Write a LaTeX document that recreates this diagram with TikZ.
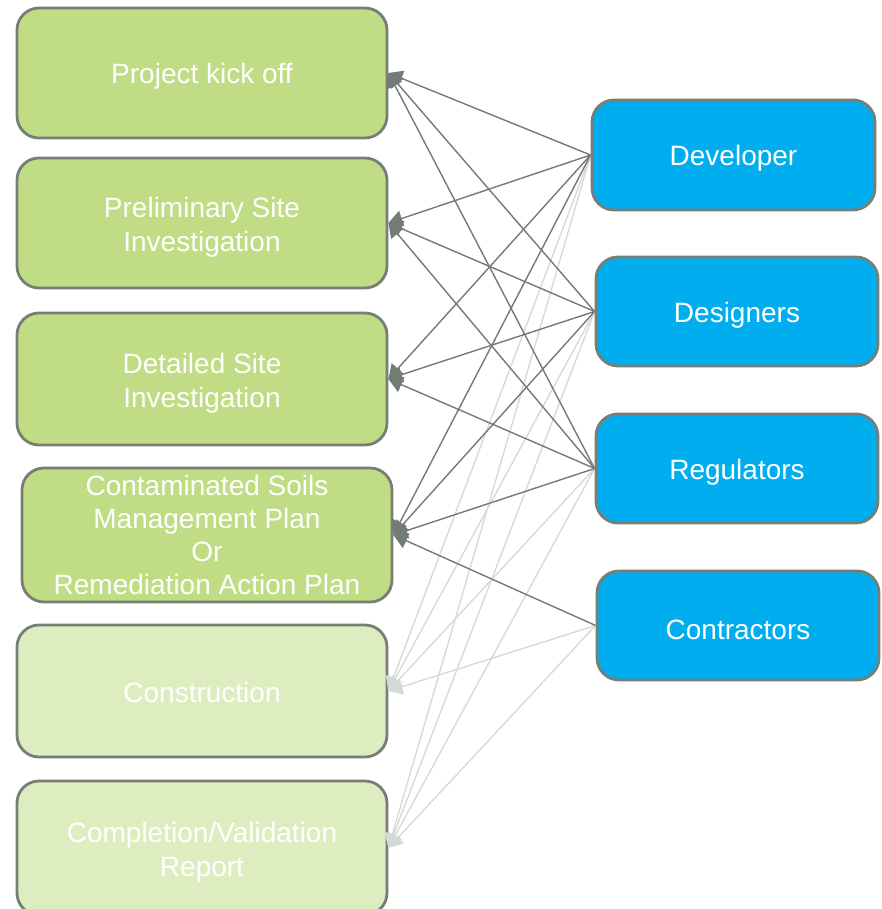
\documentclass[tikz,border=0pt]{standalone}
\usepackage{fontspec}
\setmainfont{Liberation Sans}
\usetikzlibrary{arrows.meta}
\definecolor{stepgreen}{HTML}{C0DC84}
\definecolor{stepgreenlight}{HTML}{DEEDC0}
\definecolor{roleblue}{HTML}{00AEEF}
\definecolor{edgegray}{HTML}{767F76}
\definecolor{linkdark}{HTML}{737C74}
\definecolor{linklight}{HTML}{D6D8D6}
\newcommand\tallstrut{\rule{0pt}{28pt}}
\tikzset{
  box/.style={draw=edgegray, line width=2.8pt, rounded corners=22pt, text=white,
    align=center, inner sep=0pt, font=\fontsize{28}{34}\selectfont},
  lowtext/.style={execute at begin node={\rule{0pt}{#1}}},
  lowtext/.default=27.5pt,
  stepbox/.style={box, fill=stepgreen, minimum width=370pt},
  futurebox/.style={box, fill=stepgreenlight, minimum width=370pt},
  rolebox/.style={box, lowtext, fill=roleblue, minimum width=282pt, minimum height=109pt},
  darklink/.style={draw=linkdark, line width=1.4pt, -{Triangle[width=16pt,length=14pt]}},
  lightlink/.style={draw=linklight, line width=1.3pt, -{Triangle[width=16pt,length=14pt]}}
}
\begin{document}
\begin{tikzpicture}[x=1pt,y=-1pt]
\clip (0,0) rectangle (882,909);
\fill[white] (0,0) rectangle (882,909);
% left column
\node[stepbox, lowtext, minimum height=130pt] (kick) at (202,73) {Project kick off};
\node[stepbox, minimum height=130pt] (prelim) at (202,223) {\tallstrut Preliminary Site\\Investigation};
\node[stepbox, minimum height=132pt] (detail) at (202,379) {\tallstrut Detailed Site\\Investigation};
\node[stepbox, minimum height=134pt, font=\fontsize{28}{33}\selectfont] (csmp) at (207,535) {Contaminated Soils\\Management Plan\\Or\\Remediation Action Plan};
\node[futurebox, lowtext=22.5pt, minimum height=132pt] (constr) at (202,691) {Construction};
\node[futurebox, minimum height=134pt] (compl) at (202,848) {\tallstrut Completion/Validation\\Report};
% right column
\node[rolebox, minimum width=283pt, minimum height=110pt] (dev) at (733.5,155) {Developer};
\node[rolebox] (des) at (737,311.5) {Designers};
\node[rolebox] (reg) at (737,468.5) {Regulators};
\node[rolebox] (con) at (738,625.5) {Contractors};
% light links
\foreach \r in {dev,des,reg,con}{
  \draw[lightlink] (\r.west) -- (constr.east);
  \draw[lightlink] (\r.west) -- (compl.east);
}
% dark links
\foreach \r in {dev,des,reg}{
  \foreach \s in {kick,prelim,detail,csmp}{
    \draw[darklink] (\r.west) -- (\s.east);
  }
}
\draw[darklink] (con.west) -- (csmp.east);
\end{tikzpicture}
\end{document}
